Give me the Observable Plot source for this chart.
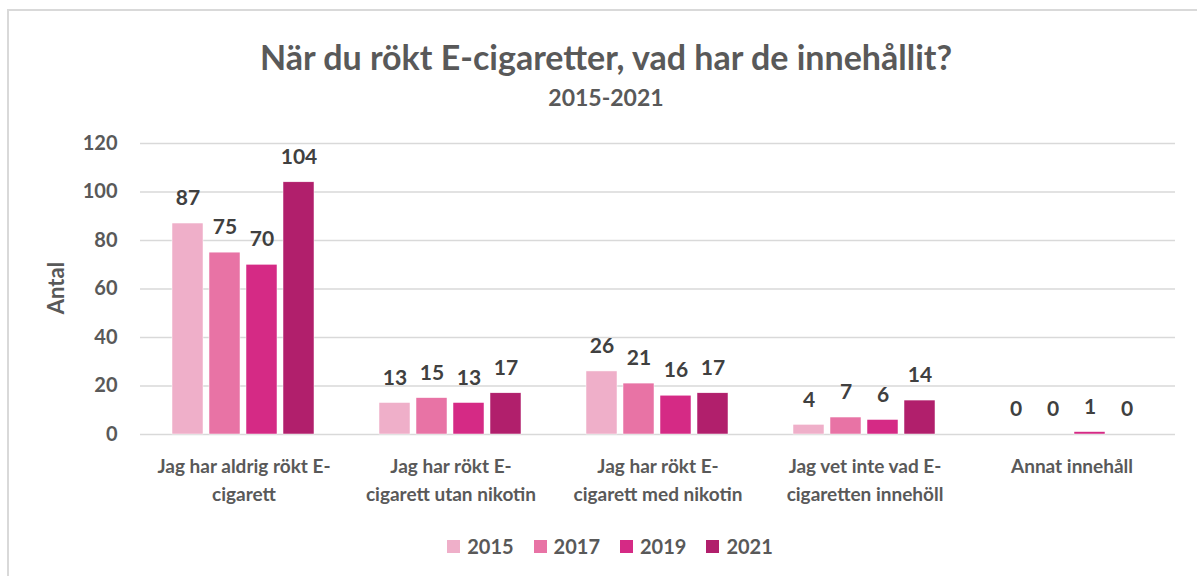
<!DOCTYPE html>
<html>
<head>
<meta charset="utf-8">
<script src="https://cdn.jsdelivr.net/npm/d3@7"></script>
<script src="https://cdn.jsdelivr.net/npm/@observablehq/plot@0.6"></script>
<style>
  html, body { margin: 0; padding: 0; background: #fff; overflow: hidden; }
  body { width: 1197px; height: 576px; position: relative; font-family: Lato, "Open Sans", sans-serif; }
  #frame { position: absolute; left: 7px; top: 9px; width: 1300px; height: 700px; border: 2px solid #d9d9d9; box-sizing: border-box; }
  #title { position: absolute; left: 0; width: 1212px; top: 36px; text-align: center; font-size: 34px; font-weight: 700; color: #595959; line-height: 42px; }
  #subtitle { position: absolute; left: 0; width: 1212px; top: 82px; text-align: center; font-size: 23px; font-weight: 700; color: #595959; line-height: 30px; }
  #chart { position: absolute; left: 0; top: 115px; }
  #legend { position: absolute; left: 0; width: 1220px; top: 534px; display: flex; justify-content: center; gap: 20px; font-size: 20px; font-weight: 700; color: #595959; }
  #legend .item { display: flex; align-items: center; gap: 7px; }
  #legend .sw { width: 13px; height: 13px; display: inline-block; }
</style>
</head>
<body>
<div id="frame"></div>
<div id="title">När du rökt E-cigaretter, vad har de innehållit?</div>
<div id="subtitle">2015-2021</div>
<div id="chart"></div>
<div id="legend"></div>
<script>
const categories = [
  "Jag har aldrig rökt E-cigarett",
  "Jag har rökt E-cigarett utan nikotin",
  "Jag har rökt E-cigarett med nikotin",
  "Jag vet inte vad E-cigaretten innehöll",
  "Annat innehåll"
];
const categoryLabels = [
  "Jag har aldrig rökt E-\ncigarett",
  "Jag har rökt E-\ncigarett utan nikotin",
  "Jag har rökt E-\ncigarett med nikotin",
  "Jag vet inte vad E-\ncigaretten innehöll",
  "Annat innehåll"
];
const years = ["2015", "2017", "2019", "2021"];
const colors = ["#efafc9", "#e873a5", "#d52a85", "#b11f6c"];
const values2015 = [87, 13, 26, 4, 0];
const values2017 = [75, 15, 21, 7, 0];
const values2019 = [70, 13, 16, 6, 1];
const values2021 = [104, 17, 17, 14, 0];
const yTicks = [0, 20, 40, 60, 80, 100, 120];

const series = [values2015, values2017, values2019, values2021];
const data = [];
categories.forEach((c, i) => {
  years.forEach((y, j) => data.push({category: c, year: y, value: series[j][i]}));
});
const labelOf = new Map(categories.map((c, i) => [c, categoryLabels[i]]));

const chart = Plot.plot({
  width: 1197,
  height: 400,
  marginLeft: 140,
  marginRight: 22,
  marginTop: 28,
  marginBottom: 81,
  style: {fontFamily: "Lato, 'Open Sans', sans-serif", background: "transparent"},
  fx: {domain: categories, paddingInner: 0, paddingOuter: 0, label: null},
  x: {domain: years, paddingInner: 0.16, paddingOuter: 0.86, axis: null},
  y: {domain: [0, 120], label: null},
  color: {domain: years, range: colors},
  marks: [
    Plot.gridY(yTicks, {stroke: "#d9d9d9", strokeOpacity: 1, strokeWidth: 1.5}),
    Plot.axisY(yTicks, {anchor: "left", tickSize: 0, tickPadding: 23, fontSize: 20, fontWeight: 700, fill: "#595959", label: null}),
    Plot.axisFx({anchor: "bottom", tickSize: 0, tickPadding: 19, fontSize: 19, fontWeight: 700, fill: "#595959", lineHeight: 1.45, tickFormat: d => labelOf.get(d), label: null}),
    Plot.barY(data, {fx: "category", x: "year", y: "value", fill: "year", stroke: "white", strokeWidth: 0.5}),
    Plot.text(data, {fx: "category", x: "year", y: "value", text: d => String(d.value), dy: -25, fontSize: 21, fontWeight: 700, fill: "#404040"})
  ]
});
document.getElementById("chart").appendChild(chart);

// y-axis title (svg coordinates: plot area spans y 28..319)
const svg = d3.select(chart);
svg.append("text")
  .attr("transform", "translate(58,173) rotate(-90)")
  .attr("text-anchor", "middle")
  .attr("dominant-baseline", "middle")
  .attr("font-size", 22)
  .attr("font-weight", 700)
  .attr("fill", "#595959")
  .attr("font-family", "Lato, 'Open Sans', sans-serif")
  .text("Antal");

const legend = d3.select("#legend");
years.forEach((y, i) => {
  const it = legend.append("div").attr("class", "item");
  it.append("span").attr("class", "sw").style("background", colors[i]);
  it.append("span").text(y);
});
</script>
</body>
</html>
